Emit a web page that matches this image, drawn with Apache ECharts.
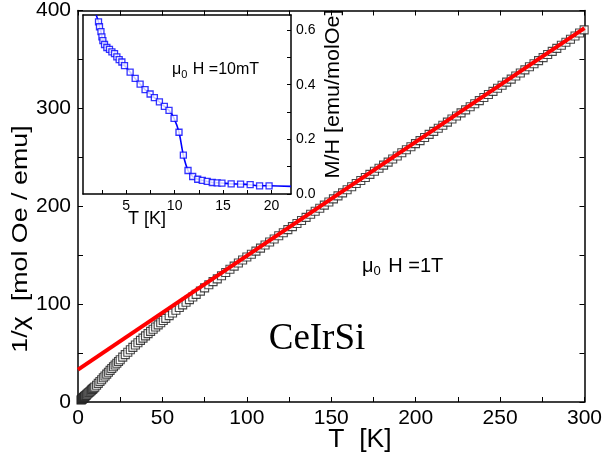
<!DOCTYPE html>
<html>
<head>
<meta charset="utf-8">
<script src="https://cdn.jsdelivr.net/npm/echarts@6/dist/echarts.min.js"></script>
<style>html,body{margin:0;padding:0;background:#fff}#c{width:605px;height:463px}</style>
</head>
<body>
<div id="c"></div>
<script>
// Main panel: 1/chi vs T (mu0H = 1 T)
const mainT = [1.8,2.0,2.2,2.4,2.6,2.8,3.0,3.3,3.6,3.9,4.2,4.6,5.0,5.5,6.0,6.5,7.0,7.5,8.0,8.5,9.0,9.5,10,11,12,13,14,15,16,17,18,19,20,21,22,23,24,25,26.5,28,29.5,31,32.5,34,35.5,37,38.5,40,41.5,43,44.5,46,47.5,49,50.5,52,54,56,58,60,62,64,66,68,70,72.5,75,77.5,80,82.5,85,87.5,90,92.5,95,97.5,100,102.7,105.4,108.1,110.8,113.5,116.2,118.9,121.6,124.3,127,129.7,132.4,135.1,137.8,140.5,143.2,145.9,148.6,151.3,154,156.7,159.4,162.1,164.8,167.5,170.2,172.9,175.6,178.3,181,183.7,186.4,189.1,191.8,194.5,197.2,199.9,202.6,205.3,208,210.7,213.4,216.1,218.8,221.5,224.2,226.9,229.6,232.3,235,237.7,240.4,243.1,245.8,248.5,251.2,253.9,256.6,259.3,262,264.7,267.4,270.1,272.8,275.5,278.2,280.9,283.6,286.3,289,291.7,294.4,297.1,299.8];
const mainInvChi = [2.0,2.3,2.6,2.9,3.3,3.6,4.0,4.5,5.0,5.5,6.0,6.7,7.3,8.1,8.9,9.7,10.5,11.3,12.1,12.9,13.7,14.5,15.3,17.1,19.0,20.9,22.8,24.7,26.6,28.5,30.4,32.3,34.2,36.0,37.8,39.6,41.4,43.2,45.8,48.4,50.9,53.4,55.8,58.2,60.6,63.0,65.3,67.6,69.9,72.2,74.4,76.6,78.8,81.0,83.2,85.4,88.2,91.0,93.8,96.5,99.2,101.9,104.6,107.3,110.0,113.3,116.6,119.8,123.0,125.8,129.0,132.3,135.6,138.8,142.0,145.1,148.2,150.9,154.1,157.2,160.4,163.5,166.6,169.8,172.9,176.1,179.2,182.3,185.5,188.6,191.8,194.9,198.0,201.2,204.3,207.5,210.6,213.7,216.9,220.0,223.2,226.3,229.4,232.6,235.7,238.9,242.0,245.1,248.3,251.4,254.6,257.7,260.8,264.0,267.1,270.3,273.4,276.5,279.7,282.8,286.0,289.1,292.2,295.4,298.5,301.7,304.8,307.9,311.1,314.2,317.4,320.5,323.6,326.8,329.9,333.1,336.2,339.3,342.5,345.6,348.8,351.9,355.0,358.2,361.3,364.5,367.6,370.7,373.9,377.0,380.2];
// Curie-Weiss fit line (two end points)
const fitT = [0, 300];
const fitInvChi = [33, 382];
const mainXTicks = [0, 50, 100, 150, 200, 250, 300];
const mainYTicks = [0, 100, 200, 300, 400];

// Inset: M/H vs T (mu0H = 10 mT)
const insetT = [2.15,2.25,2.40,2.50,2.60,2.77,3.01,3.28,3.53,3.80,4.04,4.28,4.56,4.83,5.41,5.93,6.44,6.95,7.47,7.91,8.43,8.94,9.42,9.94,10.45,10.9,11.38,11.86,12.38,12.85,13.36,13.88,14.39,14.88,15.83,16.8,17.79,18.76,19.74];
const insetMH = [0.630,0.612,0.594,0.575,0.561,0.547,0.536,0.529,0.520,0.514,0.502,0.492,0.483,0.470,0.446,0.423,0.402,0.382,0.366,0.353,0.337,0.321,0.306,0.277,0.226,0.142,0.086,0.064,0.054,0.050,0.046,0.042,0.041,0.040,0.037,0.036,0.034,0.030,0.030];
// guide-line ends (where the drawn curve leaves the frame)
const insetLineStart = [1.91, 0.655];
const insetLineEnd = [22.0, 0.028];
const insetXTicks = [2.5, 5, 7.5, 10, 12.5, 15, 17.5, 20];
const insetXLabels = [5, 10, 15, 20];
const insetYTicks = [0, 0.1, 0.2, 0.3, 0.4, 0.5, 0.6];
const insetYLabels = [0, 0.2, 0.4, 0.6];

const F = 'Liberation Sans, Arial, sans-serif';
const zip = (a, b) => a.map((v, i) => [v, b[i]]);

const chart = echarts.init(document.getElementById('c'), null, {renderer: 'canvas'});

const mainAxisCommon = {
  type: 'value',
  gridIndex: 0,
  axisLine: {show: true, onZero: false, lineStyle: {color: '#000', width: 1.5}},
  axisTick: {show: true, inside: true, length: 5, lineStyle: {color: '#000', width: 1}},
  minorTick: {show: true, splitNumber: 2, length: 5, lineStyle: {color: '#000', width: 1}},
  splitLine: {show: false},
  minorSplitLine: {show: false}
};

const option = {
  animation: false,
  backgroundColor: '#fff',
  grid: [
    {left: 78, top: 8, width: 510, height: 394, show: false},
    {left: 83, top: 15, width: 208, height: 179, show: true, backgroundColor: '#fff', borderWidth: 0}
  ],
  xAxis: [
    Object.assign({}, mainAxisCommon, {
      min: mainXTicks[0], max: mainXTicks[mainXTicks.length - 1], interval: 50, position: 'bottom',
      axisLabel: {show: true, fontSize: 21, color: '#000', margin: 6, fontFamily: F}
    }),
    Object.assign({}, mainAxisCommon, {
      min: 0, max: 300, interval: 50, position: 'top', axisLabel: {show: false}
    }),
    {
      type: 'value', gridIndex: 1, min: 0.55, max: 22, position: 'bottom',
      axisLine: {show: true, onZero: false, lineStyle: {color: '#000', width: 1.5}},
      axisTick: {show: true, inside: true, length: 4, customValues: insetXTicks, lineStyle: {color: '#000', width: 1}},
      axisLabel: {show: true, customValues: insetXLabels, fontSize: 14, color: '#000', margin: 5, fontFamily: F},
      splitLine: {show: false}
    },
    {
      type: 'value', gridIndex: 1, min: 0.55, max: 22, position: 'top',
      axisLine: {show: true, onZero: false, lineStyle: {color: '#000', width: 1.5}},
      axisTick: {show: false}, axisLabel: {show: false}, splitLine: {show: false}
    }
  ],
  yAxis: [
    Object.assign({}, mainAxisCommon, {
      min: mainYTicks[0], max: mainYTicks[mainYTicks.length - 1], interval: 100, position: 'left',
      axisLabel: {show: true, fontSize: 21, color: '#000', margin: 7, fontFamily: F}
    }),
    Object.assign({}, mainAxisCommon, {
      min: 0, max: 400, interval: 100, position: 'right', axisLabel: {show: false}
    }),
    {
      type: 'value', gridIndex: 1, min: 0, max: 0.655, position: 'right',
      axisLine: {show: true, onZero: false, lineStyle: {color: '#000', width: 1.5}},
      axisTick: {show: true, inside: true, length: 4, customValues: insetYTicks, lineStyle: {color: '#000', width: 1}},
      axisLabel: {show: true, customValues: insetYLabels, fontSize: 14, color: '#000', margin: 5, fontFamily: F,
        formatter: v => Number(v).toFixed(1)},
      splitLine: {show: false}
    },
    {
      type: 'value', gridIndex: 1, min: 0, max: 0.655, position: 'left',
      axisLine: {show: true, onZero: false, lineStyle: {color: '#000', width: 1.5}},
      axisTick: {show: false}, axisLabel: {show: false}, splitLine: {show: false}
    }
  ],
  series: [
    {
      name: 'data', type: 'scatter', xAxisIndex: 0, yAxisIndex: 0,
      data: zip(mainT, mainInvChi),
      symbol: 'rect', symbolSize: 8,
      itemStyle: {color: '#fff', borderColor: '#1a1a1a', borderWidth: 1.1},
      z: 2
    },
    {
      name: 'fit', type: 'line', xAxisIndex: 0, yAxisIndex: 0,
      data: zip(fitT, fitInvChi),
      showSymbol: false, symbol: 'none',
      lineStyle: {color: '#ff0000', width: 4},
      z: 3
    },
    {
      name: 'insetLine', type: 'line', xAxisIndex: 2, yAxisIndex: 2,
      data: [insetLineStart].concat(zip(insetT, insetMH), [insetLineEnd]),
      showSymbol: false, symbol: 'none', smooth: 0.3, clip: true,
      lineStyle: {color: '#0000ff', width: 1.6},
      z: 6
    },
    {
      name: 'insetData', type: 'scatter', xAxisIndex: 2, yAxisIndex: 2,
      data: zip(insetT, insetMH),
      symbol: 'rect', symbolSize: 6,
      itemStyle: {color: '#fff', borderColor: '#0000ff', borderWidth: 1.3},
      z: 7
    }
  ],
  graphic: [
    {type: 'text', x: 21, y: 239, rotation: Math.PI / 2, scaleX: 1.22, z: 10,
      style: {text: '1/χ  [mol Oe / emu]', font: '22px ' + F, fill: '#000', textAlign: 'center', textVerticalAlign: 'middle'}},
    {type: 'text', x: 360, y: 440, scaleX: 1.06, z: 10,
      style: {text: 'T  [K]', font: '25px ' + F, fill: '#000', textAlign: 'center', textVerticalAlign: 'middle'}},
    {type: 'text', x: 147, y: 219, z: 10,
      style: {text: 'T [K]', font: '18px ' + F, fill: '#000', textAlign: 'center', textVerticalAlign: 'middle'}},
    {type: 'text', x: 333, y: 94, rotation: Math.PI / 2, scaleX: 1.08, z: 10,
      style: {text: 'M/H [emu/molOe]', font: '20px ' + F, fill: '#000', textAlign: 'center', textVerticalAlign: 'middle'}},
    {type: 'text', x: 362, y: 266, z: 10,
      style: {text: '{a|μ}{s|0}{a| H =1T}', textAlign: 'left', textVerticalAlign: 'middle',
        rich: {a: {font: '20px ' + F, fill: '#000'}, s: {font: '13px ' + F, fill: '#000', padding: [11, 2, 0, 0]}}}},
    {type: 'text', x: 172, y: 70, z: 10,
      style: {text: '{a|μ}{s|0}{a| H =10mT}', textAlign: 'left', textVerticalAlign: 'middle',
        rich: {a: {font: '16px ' + F, fill: '#000'}, s: {font: '11px ' + F, fill: '#000', padding: [9, 1, 0, 0]}}}},
    {type: 'text', x: 317, y: 339, z: 10,
      style: {text: 'CeIrSi', font: '37px Liberation Serif, Times New Roman, serif', fill: '#000', textAlign: 'center', textVerticalAlign: 'middle'}}
  ]
};
chart.setOption(option);
</script>
</body>
</html>
